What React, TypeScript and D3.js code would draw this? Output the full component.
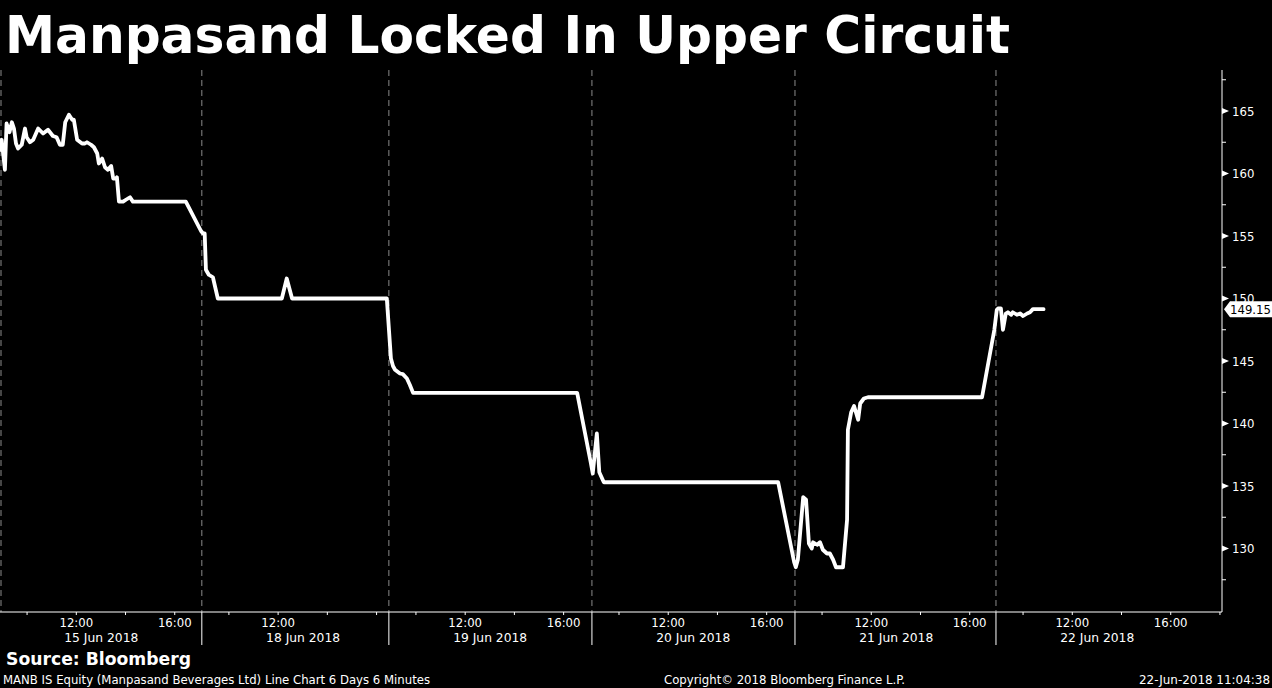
import React from "react";
import * as d3 from "d3";

const chartTitle = "Manpasand Locked In Upper Circuit";
const sourceText = "Source: Bloomberg";
const footerLeft = "MANB IS Equity (Manpasand Beverages Ltd) Line Chart 6 Days 6 Minutes";
const footerMid = "Copyright\u00a9 2018 Bloomberg Finance L.P.";
const footerRight = "22-Jun-2018 11:04:38";

const dayLabels = ["15 Jun 2018", "18 Jun 2018", "19 Jun 2018", "20 Jun 2018", "21 Jun 2018", "22 Jun 2018"];
const sessionStart = "08:54";
const sessionEnds = ["17:06", "16:30", "17:09", "17:09", "17:04", "18:05"];
const tickHours = [10, 12, 14, 16, 18];
const labelHours = [12, 16];
const yTicks = [130, 135, 140, 145, 150, 155, 160, 165];
const yMinorTicks = [127.5, 132.5, 137.5, 142.5, 147.5, 152.5, 157.5, 162.5, 167.5];
const yDomain = [124.92, 168.28];
const lastPrice = 149.15;

const jun15: [string, number][] = [
  ["08:54", 161.9], ["08:58", 162.7], ["09:06", 160.3], ["09:10", 164.0], ["09:17", 163.3],
  ["09:23", 164.1], ["09:28", 163.6], ["09:33", 162.4], ["09:38", 162.0], ["09:47", 162.3],
  ["09:55", 163.6], ["09:59", 162.9], ["10:07", 162.5], ["10:15", 162.7], ["10:27", 163.6],
  ["10:39", 163.2], ["10:51", 163.5], ["11:03", 163.0], ["11:12", 162.9], ["11:20", 162.3],
  ["11:27", 162.3], ["11:33", 164.1], ["11:42", 164.7], ["11:50", 164.3], ["11:54", 164.3],
  ["12:02", 162.7], ["12:14", 162.4], ["12:21", 162.4], ["12:26", 162.5], ["12:36", 162.3],
  ["12:43", 162.1], ["12:51", 161.6], ["12:55", 160.8], ["13:03", 161.2], ["13:10", 160.5],
  ["13:17", 160.3], ["13:25", 160.6], ["13:30", 159.6], ["13:37", 159.6], ["13:39", 159.7],
  ["13:44", 157.75], ["13:54", 157.75], ["14:01", 157.9], ["14:11", 158.1], ["14:18", 157.75],
  ["16:27", 157.75], ["17:04", 155.4],
];
const jun18: [string, number][] = [
  ["08:57", 155.2], ["09:01", 155.2], ["09:04", 152.3], ["09:11", 151.9], ["09:21", 151.7],
  ["09:33", 150.0], ["12:09", 150.0], ["12:21", 151.6], ["12:34", 150.0], ["16:25", 150.0],
];
const jun19: [string, number][] = [
  ["08:59", 145.2], ["09:04", 144.6], ["09:09", 144.3], ["09:21", 144.0], ["09:28", 143.95],
  ["09:38", 143.6], ["09:45", 143.1], ["09:53", 142.45], ["16:33", 142.45], ["17:06", 136.9],
];
const jun20: [string, number][] = [
  ["08:56", 136.0], ["09:06", 139.2], ["09:12", 136.1], ["09:23", 135.3], ["16:28", 135.3],
  ["17:07", 128.9],
];
const jun21: [string, number][] = [
  ["08:56", 128.5], ["09:01", 129.1], ["09:14", 134.1], ["09:21", 133.9], ["09:28", 130.4],
  ["09:35", 130.0], ["09:38", 130.5], ["09:48", 130.3], ["09:55", 130.5], ["10:02", 129.9],
  ["10:12", 129.6], ["10:19", 129.6], ["10:27", 129.1], ["10:34", 128.5], ["10:51", 128.5],
  ["11:01", 132.3], ["11:03", 139.5], ["11:11", 140.9], ["11:18", 141.4], ["11:28", 140.3],
  ["11:33", 141.6], ["11:42", 142.0], ["11:52", 142.1], ["16:30", 142.1], ["17:00", 147.5],
];
const jun22: [string, number][] = [
  ["08:56", 149.1], ["08:59", 149.2], ["09:06", 149.2], ["09:11", 147.5], ["09:18", 148.8],
  ["09:23", 148.9], ["09:31", 148.7], ["09:35", 148.9], ["09:45", 148.7], ["09:53", 148.8],
  ["10:00", 148.6], ["10:10", 148.8], ["10:17", 148.9], ["10:24", 149.15], ["10:50", 149.15],
];
const dayData = [jun15, jun18, jun19, jun20, jun21, jun22];

const W = 1272;
const H = 688;
const plotLeft = 0;
const plotRight = 1222;
const plotTop = 70;
const plotBottom = 612;
const axisFont = "'DejaVu Sans Condensed', 'DejaVu Sans', sans-serif";
const boldFont = "'DejaVu Sans', Verdana, sans-serif";

const toHours = (t: string) => {
  const [h, m] = t.split(":").map(Number);
  return h + m / 60;
};

export default function App() {
  const startH = toHours(sessionStart);
  const dayLens = sessionEnds.map((e) => toHours(e) - startH);
  const cum: number[] = [];
  let acc = 0;
  dayLens.forEach((l) => {
    cum.push(acc);
    acc += l;
  });
  const total = acc;
  const x = d3.scaleLinear().domain([0, total]).range([plotLeft, plotRight]);
  const y = d3.scaleLinear().domain(yDomain).range([plotBottom, plotTop]);
  const xAt = (di: number, h: number) => x(cum[di] + h - startH);

  const points: [number, number][] = [];
  dayData.forEach((arr, di) => {
    arr.forEach(([t, v]) => points.push([xAt(di, toHours(t)), y(v)]));
  });
  const line = d3.line().curve(d3.curveLinear);
  const path = line(points) || "";

  const ly = y(lastPrice);

  return (
    <svg
      width={W}
      height={H}
      style={{ position: "fixed", left: 0, top: 0, background: "#000", display: "block" }}
    >
      <rect x={0} y={0} width={W} height={H} fill="#000" />
      <text
        x={5}
        y={53}
        fill="#fff"
        fontFamily={boldFont}
        fontWeight="bold"
        fontSize={51}
        textLength={1005}
        lengthAdjust="spacingAndGlyphs"
      >
        {chartTitle}
      </text>

      {/* day separators in plot */}
      {cum.map((c, i) => (
        <line
          key={"sep" + i}
          x1={x(c) + (i === 0 ? 1 : 0)}
          x2={x(c) + (i === 0 ? 1 : 0)}
          y1={plotTop}
          y2={plotBottom}
          stroke="#8a8a8a"
          strokeWidth={1}
          strokeDasharray="6,4"
        />
      ))}

      {/* price line */}
      <path d={path} fill="none" stroke="#fff" strokeWidth={3.8} strokeLinejoin="round" strokeLinecap="round" />

      {/* x axis */}
      <line x1={plotLeft} x2={plotRight} y1={plotBottom} y2={plotBottom} stroke="#fff" strokeWidth={1} />
      {cum.slice(1).map((c, i) => (
        <line key={"xs" + i} x1={x(c)} x2={x(c)} y1={plotBottom} y2={645} stroke="#fff" strokeWidth={1} />
      ))}
      {dayLens.map((len, di) =>
        tickHours
          .filter((h) => h - startH < len)
          .map((h) => (
            <line
              key={"xt" + di + "-" + h}
              x1={xAt(di, h)}
              x2={xAt(di, h)}
              y1={plotBottom}
              y2={plotBottom + 3}
              stroke="#fff"
              strokeWidth={1}
            />
          ))
      )}
      {dayLens.map((len, di) =>
        labelHours
          .filter((h) => x(cum[di] + len) - xAt(di, h) > 20)
          .map((h) => (
            <text
              key={"xl" + di + "-" + h}
              x={xAt(di, h)}
              y={627}
              fill="#fff"
              fontFamily={axisFont}
              fontSize={13}
              textAnchor="middle"
            >
              {`${h}:00`}
            </text>
          ))
      )}
      {dayLabels.map((lab, di) => (
        <text
          key={"dl" + di}
          x={xAt(di, 12) - 12}
          y={642}
          fill="#fff"
          fontFamily={axisFont}
          fontSize={13}
          textLength={74}
          lengthAdjust="spacingAndGlyphs"
        >
          {lab}
        </text>
      ))}

      {/* y axis */}
      <line x1={plotRight} x2={plotRight} y1={plotTop} y2={plotBottom} stroke="#fff" strokeWidth={1} />
      {yMinorTicks.map((v) => (
        <line key={"ym" + v} x1={plotRight} x2={plotRight + 4} y1={y(v)} y2={y(v)} stroke="#fff" strokeWidth={1} />
      ))}
      {yTicks.map((v) => (
        <g key={"yt" + v}>
          <path
            d={`M${plotRight},${y(v) - 3}L${plotRight + 7},${y(v)}L${plotRight},${y(v) + 3}Z`}
            fill="#fff"
          />
          <text
            x={plotRight + 10}
            y={y(v) + 4.5}
            fill="#fff"
            fontFamily={axisFont}
            fontSize={13}
          >
            {v}
          </text>
        </g>
      ))}

      {/* last price label */}
      <path
        d={`M${plotRight + 2},${ly}L${plotRight + 8},${ly - 8}L${W},${ly - 8}L${W},${ly + 8}L${plotRight + 8},${ly + 8}Z`}
        fill="#fff"
      />
      <text x={plotRight + 8} y={ly + 4.5} fill="#000" fontFamily={axisFont} fontSize={13}>
        {lastPrice.toFixed(2)}
      </text>

      {/* footer */}
      <text x={6} y={665} fill="#fff" fontFamily={boldFont} fontWeight="bold" fontSize={17} textLength={185} lengthAdjust="spacingAndGlyphs">
        {sourceText}
      </text>
      <text x={3} y={684} fill="#fff" fontFamily={axisFont} fontSize={12} textLength={427} lengthAdjust="spacingAndGlyphs">
        {footerLeft}
      </text>
      <text x={664} y={684} fill="#fff" fontFamily={axisFont} fontSize={12} textLength={241} lengthAdjust="spacingAndGlyphs">
        {footerMid}
      </text>
      <text x={1270} y={684} fill="#fff" fontFamily={axisFont} fontSize={12} textAnchor="end" textLength={131} lengthAdjust="spacingAndGlyphs">
        {footerRight}
      </text>
    </svg>
  );
}
